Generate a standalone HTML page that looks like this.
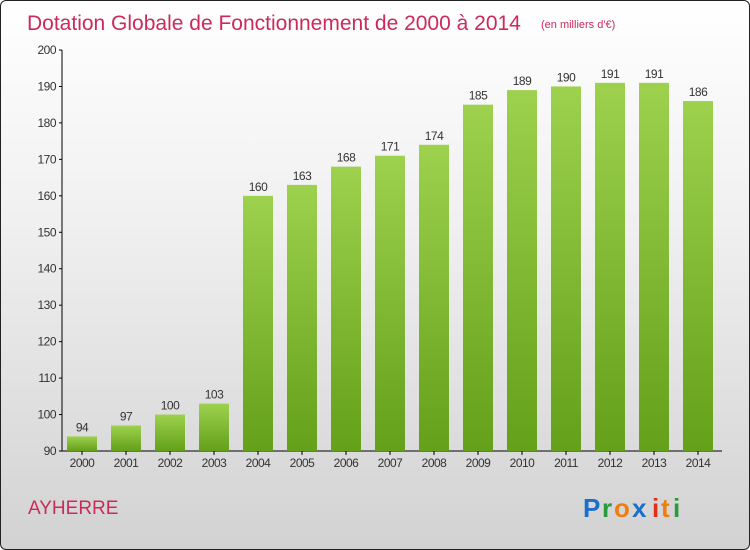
<!DOCTYPE html>
<html><head><meta charset="utf-8"><style>
html,body{margin:0;padding:0;}
body{width:750px;height:550px;overflow:hidden;font-family:"Liberation Sans",sans-serif;}
#frame{position:absolute;left:0;top:0;width:748px;height:548px;border:1px solid #222;border-radius:6px;background:linear-gradient(#ffffff 0%,#f0f0f0 40%,#d2d2d2 100%);overflow:hidden;}
</style></head><body>
<div id="frame">
<svg width="750" height="550" style="position:absolute;left:-1px;top:-1px">
<defs><linearGradient id="bg" x1="0" y1="0" x2="0" y2="1"><stop offset="0" stop-color="#9dd14e"/><stop offset="1" stop-color="#64a01a"/></linearGradient></defs>
<text x="27" y="30" font-size="21" fill="#cc2a5c">Dotation Globale de Fonctionnement de 2000 à 2014</text>
<text x="541" y="28" font-size="11" fill="#cc2a5c">(en milliers d'€)</text>
<g id="plot"></g>
<text x="28" y="514" font-size="19" fill="#cc2a5c">AYHERRE</text>
<g font-size="26" font-weight="bold">
<text x="583" y="517" fill="#1a6fcc">P</text><text x="602" y="517" fill="#2a9a3a">r</text><text x="614" y="517" fill="#f07d10">o</text><text x="632" y="517" fill="#1a6fcc">x</text><text x="652" y="517" fill="#e0301a">i</text><text x="661" y="517" fill="#f07d10">t</text><text x="673" y="517" fill="#2a9a3a">i</text>
</g>
</svg></div>
<script>
const years=["2000","2001","2002","2003","2004","2005","2006","2007","2008","2009","2010","2011","2012","2013","2014"];
const values=[94,97,100,103,160,163,168,171,174,185,189,190,191,191,186];
const ticks=[90,100,110,120,130,140,150,160,170,180,190,200];
const NS="http://www.w3.org/2000/svg";
const g=document.getElementById('plot');
const y=v=>451-(v-90)*(401/110);
const x=i=>82+i*44;
function mk(t,a){const e=document.createElementNS(NS,t);for(const k in a)e.setAttribute(k,a[k]);g.appendChild(e);return e;}
const ax=mk('line',{x1:62,y1:50,x2:62,y2:451,stroke:'#000','stroke-width':1});


const bx=mk('line',{x1:62,y1:451,x2:722,y2:451,stroke:'#000','stroke-width':1});


ticks.forEach(t=>{
  mk('line',{x1:59,y1:y(t),x2:62,y2:y(t),stroke:'#000'});
  const tx=mk('text',{x:56,y:y(t)+4,'font-size':12,'text-anchor':'end',fill:'#333','letter-spacing':'-0.5'});
  tx.textContent=t;
  
  
});
years.forEach((yr,i)=>{
  const v=values[i];
  const r=mk('rect',{x:x(i)-15,y:y(v),width:30,height:451-y(v),fill:'url(#bg)'});
  
  
  const lb=mk('text',{x:x(i),y:y(v)-5,'font-size':12,'text-anchor':'middle',fill:'#333','letter-spacing':'-0.5'});
  lb.textContent=v;
  
  
  mk('line',{x1:x(i),y1:451,x2:x(i),y2:455,stroke:'#000'});
  const xl=mk('text',{x:x(i),y:467,'font-size':12,'text-anchor':'middle',fill:'#333','letter-spacing':'-0.5'});
  xl.textContent=yr;
  
  
});
</script>
</body></html>
